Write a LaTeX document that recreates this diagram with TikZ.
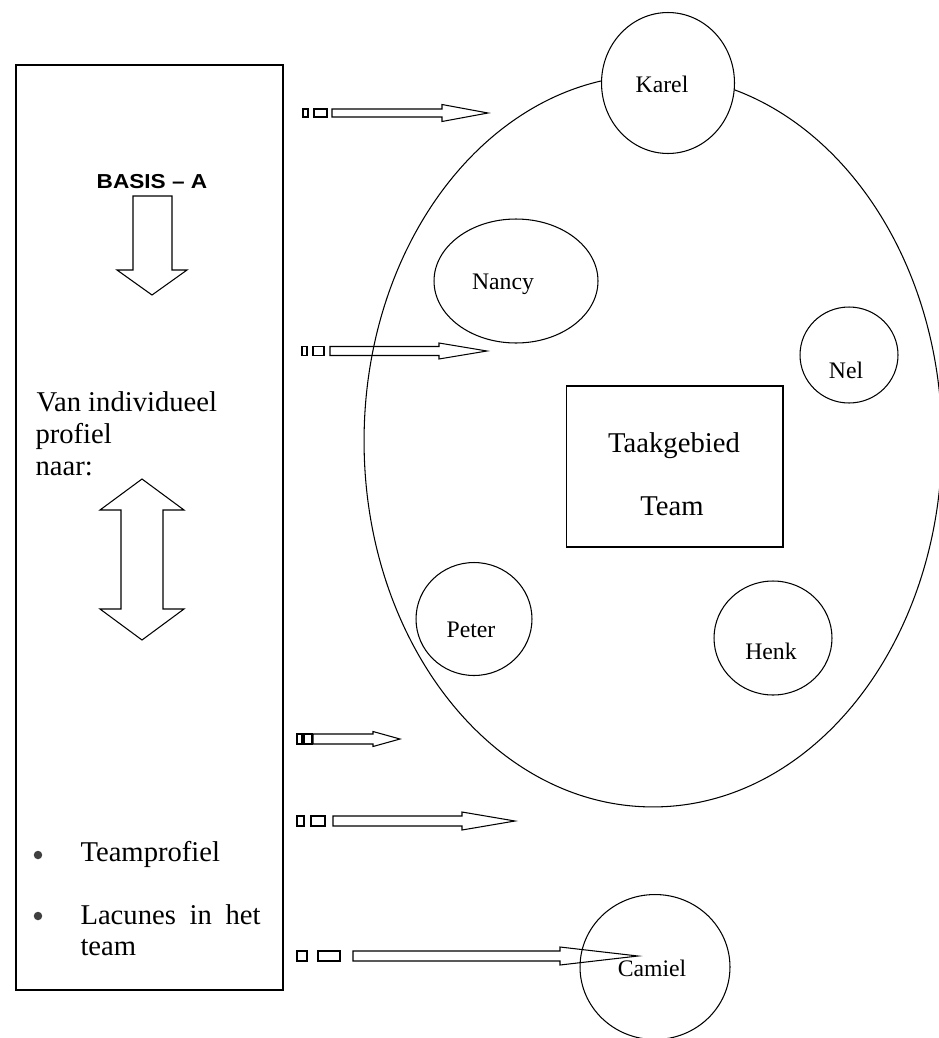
\documentclass[tikz,border=0pt]{standalone}
\usepackage{fontspec}
\setmainfont{Liberation Serif}
\newfontfamily\basisfont{Liberation Sans}
\usetikzlibrary{shapes.geometric}

\tikzset{
    member/.style={draw, ellipse, inner sep=0pt},
    nametext/.style={font=\fontsize{13.5}{16}\selectfont},
    bigtext/.style={font=\fontsize{16.3}{18}\selectfont, inner sep=0pt},
    hollow/.style={draw, line width=0.6pt, line join=miter},
    bulletdot/.style={circle, fill=black!75, inner sep=0pt, minimum size=0.17cm}
}

\begin{document}
\begin{tikzpicture}[x=0.02cm, y=-0.02cm, line width=0.6pt]
    \useasboundingbox (0,0) rectangle (939,1038);

    %% Left box
    \begin{scope}
        \node[draw, line width=0.7pt, minimum width=5.34cm, minimum height=18.5cm,
              inner sep=0pt] (basisbox) at (149.5,527.5) {};
        \node (basis) at (152,182)
            {\basisfont\bfseries\fontsize{11.5}{14}\selectfont\scalebox{1.12}[1]{BASIS – A}};
        \draw[hollow] (133,196) -- (172,196) -- (172,270) -- (187,270) -- (152,295)
            -- (117,270) -- (133,270) -- cycle;

        \node[bigtext, anchor=base west] (van) at (36,411) {Van individueel};
        \node[bigtext, anchor=base west] (profiel) at (35,443) {profiel};
        \node[bigtext, anchor=base west] (naar) at (35,475) {naar:};

        \draw[hollow] (142,479) -- (184,510) -- (163,510) -- (163,609) -- (184,609)
            -- (142,640) -- (100,609) -- (121,609) -- (121,510) -- (100,510) -- cycle;

        \node[bulletdot] (dot1) at (38,855) {};
        \node[bigtext, anchor=base west] (teamprofiel) at (80,861) {Teamprofiel};
        \node[bulletdot] (dot2) at (38,916) {};
        \node[bigtext, anchor=base west] (lacunes) at (80,924)
            {\makebox[3.6cm][s]{Lacunes\hfill in\hfill het}};
        \node[bigtext, anchor=base west] (team) at (80,955) {team};
    \end{scope}

    %% Team
    \begin{scope}
        \node[draw, ellipse, minimum width=11.56cm, minimum height=14.64cm,
              inner sep=0pt] (teamarea) at (653,441) {};

        \node[draw, minimum width=4.34cm, minimum height=3.22cm, inner sep=0pt]
            (taak) at (674.5,466.5) {};
        \node[bigtext, anchor=base] (taakgebied) at (674,452) {Taakgebied};
        \node[bigtext, anchor=base] (taakteam) at (672,515) {Team};

        \node[member, fill=white, minimum width=2.66cm, minimum height=2.82cm] (karel) at (668,83) {};
        \node[nametext] (kareltext) at (662,84) {Karel};
        \node[member, minimum width=3.28cm, minimum height=2.48cm] (nancy) at (516,281) {};
        \node[nametext] (nancytext) at (503,284) {Nancy};
        \node[member, minimum width=1.96cm, minimum height=1.92cm] (nel) at (849,355) {};
        \node[nametext] (neltext) at (846,370) {Nel};
        \node[member, minimum width=2.32cm, minimum height=2.26cm] (peter) at (474,619) {};
        \node[nametext] (petertext) at (471,630) {Peter};
        \node[member, minimum width=2.36cm, minimum height=2.28cm] (henk) at (773,638) {};
        \node[nametext] (henktext) at (771,651) {Henk};
        \node[member, minimum width=3.0cm, minimum height=2.9cm] (camiel) at (655,967) {};
        \node[nametext] (camieltext) at (652,968) {Camiel};
    \end{scope}

    %% Arrows
    % y / tail bits / shaft start / head start / tip / half shaft / half head
    \foreach \y/\ra/\rb/\rc/\rd/\s/\h/\t/\w/\v in {
        113/303/308/314/327/332/442/488/4/8.5,
        351/302/307/313/324/330/439/487/4.5/8,
        739/297/302/304/312/313/373/400/5/7.5,
        821/297/304/311/325/333/462/515/5/9,
        956/297/307/318/340/353/560/638/5/9} {
        \draw (\ra,\y-\w) rectangle (\rb,\y+\w);
        \draw (\rc,\y-\w) rectangle (\rd,\y+\w);
        \draw[hollow] (\s,\y-\w) -- (\h,\y-\w) -- (\h,\y-\v) -- (\t,\y)
            -- (\h,\y+\v) -- (\h,\y+\w) -- (\s,\y+\w) -- cycle;
    }

\end{tikzpicture}
\end{document}
